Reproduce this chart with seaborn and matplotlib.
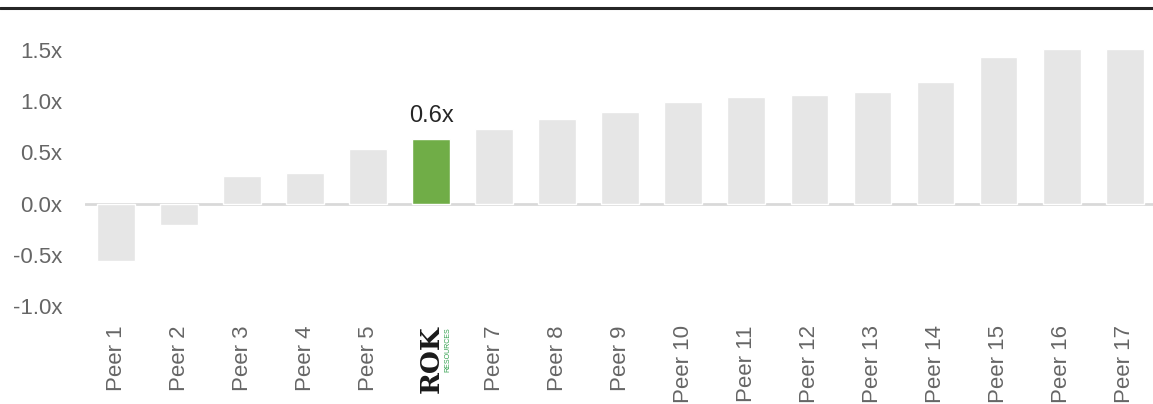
import numpy as np
import pandas as pd
import matplotlib
matplotlib.use("Agg")
import matplotlib.pyplot as plt
import seaborn as sns
from matplotlib.lines import Line2D

# values
peers = ["Peer 1", "Peer 2", "Peer 3", "Peer 4", "Peer 5", "ROK", "Peer 7", "Peer 8",
         "Peer 9", "Peer 10", "Peer 11", "Peer 12", "Peer 13", "Peer 14", "Peer 15",
         "Peer 16", "Peer 17"]
multiples = [-0.56, -0.21, 0.27, 0.30, 0.53, 0.63, 0.73, 0.83, 0.89, 0.99, 1.04, 1.06,
             1.09, 1.19, 1.43, 1.51, 1.51]
yticks = [-1.0, -0.5, 0.0, 0.5, 1.0, 1.5]
highlight = "ROK"
highlight_label = "0.6x"

df = pd.DataFrame({"company": peers, "multiple": multiples})
colors = {p: ("#70ad47" if p == highlight else "#e6e6e6") for p in peers}

sns.set_theme(style="white")
plt.rcParams["font.family"] = ["Liberation Sans", "DejaVu Sans"]

fig = plt.figure(figsize=(11.53, 4.04), dpi=100)
ax = fig.add_axes([0.0733, 0.2426, 0.9267, 0.659])

ax.axhline(0, color="#d9d9d9", lw=2, zorder=0)
sns.barplot(data=df, x="company", y="multiple", hue="company", palette=colors,
            order=peers, width=0.6, legend=False, ax=ax, saturation=1, zorder=2)

ax.set_xlim(-0.5, 16.45)
ax.set_ylim(-1.0, 1.6)
ax.set_yticks(yticks)
ax.set_yticklabels([f"{t:.1f}x" for t in yticks], fontsize=16, color="#666666")
for s in ax.spines.values():
    s.set_visible(False)
ax.tick_params(axis="y", length=0, pad=16)
ax.tick_params(axis="x", length=0, pad=14)
ax.set_xlabel("")
ax.set_ylabel("")

ax.set_xticks(range(len(peers)))
ax.set_xticklabels(peers, rotation=90, fontsize=16, color="#666666", va="top", ha="center")
rok_idx = peers.index(highlight)
lbl = ax.get_xticklabels()[rok_idx]
lbl.set_fontfamily("DejaVu Serif")
lbl.set_fontweight("bold")
lbl.set_color("#1a1a1a")
lbl.set_fontsize(19)
# small green wordmark next to the logo
ax.annotate("RESOURCES", xy=(rok_idx, -1.0), xytext=(12, -15), textcoords="offset points",
            rotation=90, ha="center", va="top", fontsize=5, color="#2e9e4a",
            annotation_clip=False)

ax.text(rok_idx, multiples[rok_idx] + 0.12, highlight_label, ha="center", va="bottom",
        fontsize=17, color="#262626")

# dark rule across the top of the figure
fig.add_artist(Line2D([0, 1], [0.981, 0.981], color="#262626", lw=2.2,
                      transform=fig.transFigure))

fig.savefig("out.png", dpi=100)
